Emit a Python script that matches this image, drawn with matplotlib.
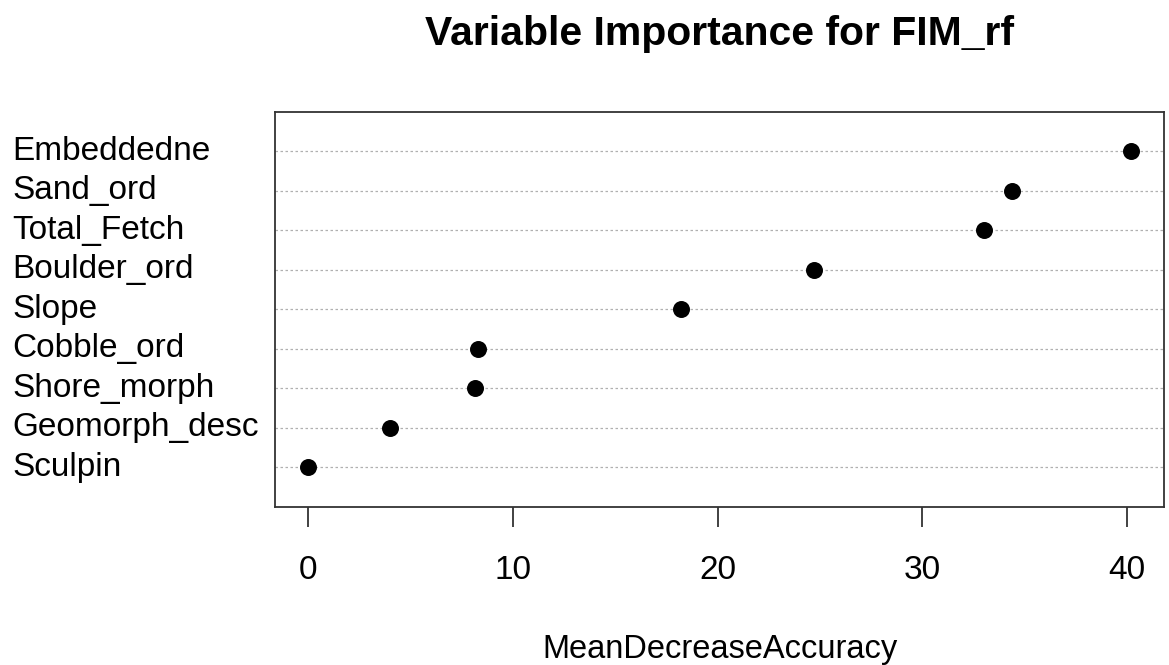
import numpy as np
import matplotlib.pyplot as plt
from matplotlib.transforms import blended_transform_factory

plt.rcParams['font.family'] = ['Liberation Sans', 'DejaVu Sans']

# variables, bottom to top as drawn
variables = ['Sculpin', 'Geomorph_desc', 'Shore_morph', 'Cobble_ord', 'Slope',
             'Boulder_ord', 'Total_Fetch', 'Sand_ord', 'Embeddedne']
importance = [0.0, 4.03, 8.18, 8.33, 18.2, 24.7, 33.03, 34.39, 40.19]
xticks = [0, 10, 20, 30, 40]

fig = plt.figure(figsize=(11.69, 6.65), dpi=100)
ax = fig.add_axes([0.2352, 0.2376, 0.9957 - 0.2352, 0.8316 - 0.2376])

ypos = np.arange(1, len(variables) + 1)
for y in ypos:
    ax.axhline(y, color='#b0b0b0', linestyle=(0, (2, 2)), linewidth=0.9, zorder=1)
ax.plot(importance, ypos, 'o', color='black', markersize=11.2, zorder=3)

pad = 0.04 * (max(importance) - min(importance))
ax.set_xlim(min(importance) - pad, max(importance) + pad)
ax.set_ylim(0, len(variables) + 1)

ax.set_yticks([])
ax.set_xticks(xticks)
ax.tick_params(axis='x', length=14.5, width=1.3, color='#333333', pad=20, labelsize=24)
for s in ax.spines.values():
    s.set_color('#333333')
    s.set_linewidth(1.3)

# row labels, left aligned at the figure edge like R's dotchart
trans = blended_transform_factory(fig.transFigure, ax.transData)
for y, name in zip(ypos, variables):
    ax.text(12 / 1169, y, name, transform=trans, fontsize=24, ha='left', va='center')

fig.text(0.6155, 0.932, 'Variable Importance for FIM_rf', fontsize=29.4, fontweight='bold',
         ha='center', va='baseline')
fig.text(0.6155, 0.0105, 'MeanDecreaseAccuracy', fontsize=23.5, ha='center', va='baseline')

fig.savefig('out.png', dpi=100)
